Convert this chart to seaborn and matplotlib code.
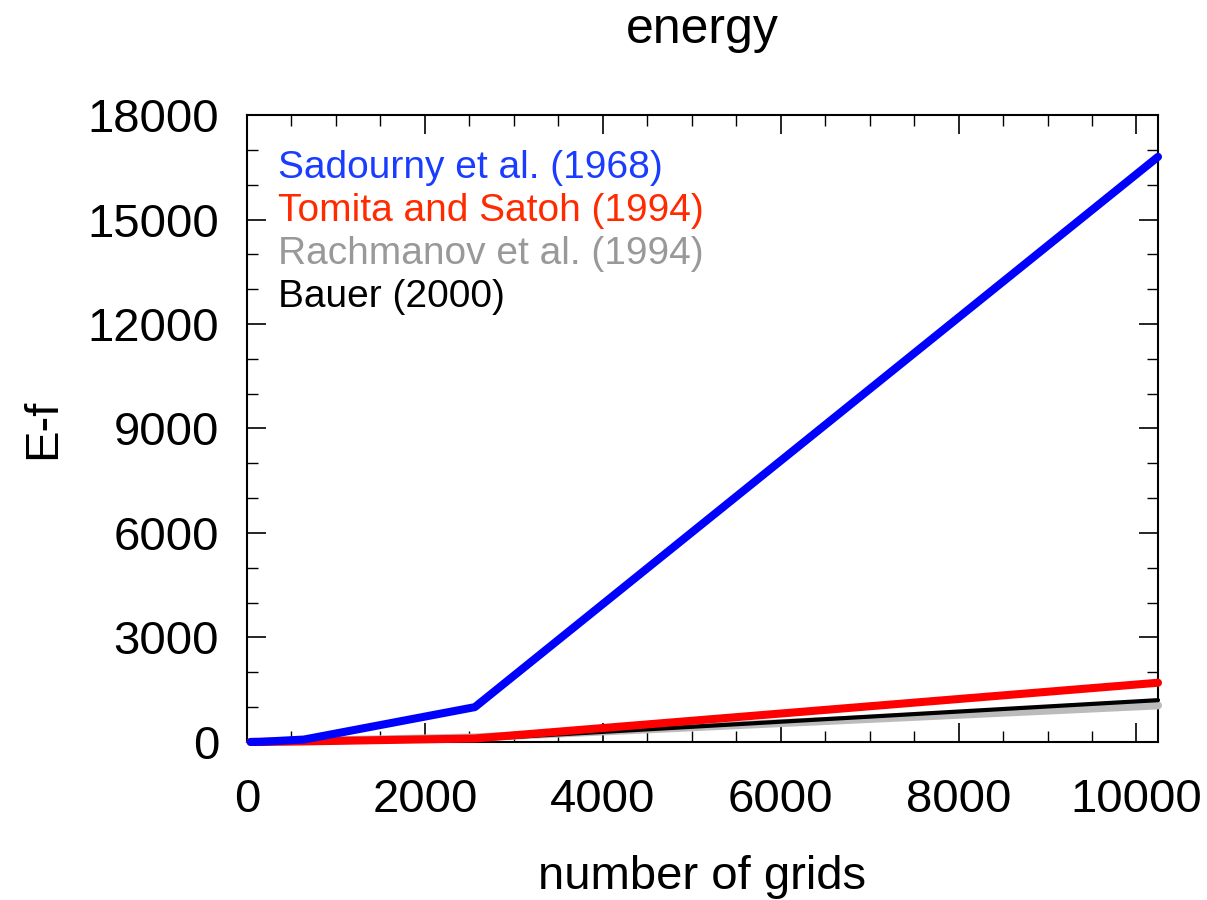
import matplotlib
matplotlib.use("Agg")
import matplotlib.pyplot as plt
import seaborn as sns
import numpy as np
from matplotlib.ticker import MultipleLocator

grids = [42, 162, 642, 2562, 10242]
sadourny = [0, 5, 70, 1000, 16800]
tomita = [0, 2, 15, 100, 1700]
rachmanov = [0, 3, 30, 130, 1050]
bauer = [0, 2, 15, 80, 1200]

labels = ["Sadourny et al. (1968)", "Tomita and Satoh (1994)",
          "Rachmanov et al. (1994)", "Bauer (2000)"]
line_colors = ["#0000ff", "#ff0000", "#bbbbbb", "#000000"]
text_colors = ["#1a3cff", "#ff2a00", "#999999", "#000000"]
widths = [5.8, 5.8, 5.8, 3.0]

sns.set_theme(style="ticks")
plt.rcParams['font.family'] = ['Liberation Sans', 'DejaVu Sans']
plt.rcParams['text.color'] = 'black'
plt.rcParams['axes.labelcolor'] = 'black'
plt.rcParams['xtick.color'] = 'black'
plt.rcParams['ytick.color'] = 'black'

fig = plt.figure(figsize=(12.07, 9), dpi=100)
ax = fig.add_axes([0.2046, 0.1756, 0.9594 - 0.2046, 0.8722 - 0.1756])

series = [sadourny, tomita, rachmanov, bauer]
order = [2, 3, 1, 0]
for i in order:
    sns.lineplot(x=grids, y=series[i], ax=ax, color=line_colors[i],
                 linewidth=widths[i], solid_capstyle="round",
                 solid_joinstyle="round", clip_on=False, zorder=3 + order.index(i))

ax.set_xlim(0, 10242)
ax.set_ylim(0, 18000)
ax.xaxis.set_major_locator(MultipleLocator(2000))
ax.xaxis.set_minor_locator(MultipleLocator(500))
ax.yaxis.set_major_locator(MultipleLocator(3000))
ax.yaxis.set_minor_locator(MultipleLocator(1000))
ax.tick_params(which="both", direction="in", top=True, right=True,
               color="black", labelcolor="black")
ax.tick_params(which="major", length=14, width=1.2, labelsize=34)
ax.tick_params(axis="x", which="major", pad=26)
ax.tick_params(axis="y", which="major", pad=20)
ax.tick_params(which="minor", length=8, width=1.0)
for s in ax.spines.values():
    s.set_linewidth(1.5)
    s.set_color("black")

ax.set_xlabel("number of grids", fontsize=34, labelpad=24)
ax.set_ylabel("E-f", fontsize=34)
ax.yaxis.set_label_coords(-0.200, 0.5)
ax.set_title("energy", fontsize=36, pad=52)

ys = [0.915, 0.847, 0.778, 0.710]
for lab, c, y in zip(labels, text_colors, ys):
    ax.text(0.034, y, lab, color=c, fontsize=28, transform=ax.transAxes,
            va="center", ha="left")

fig.savefig("out.png", dpi=100)
